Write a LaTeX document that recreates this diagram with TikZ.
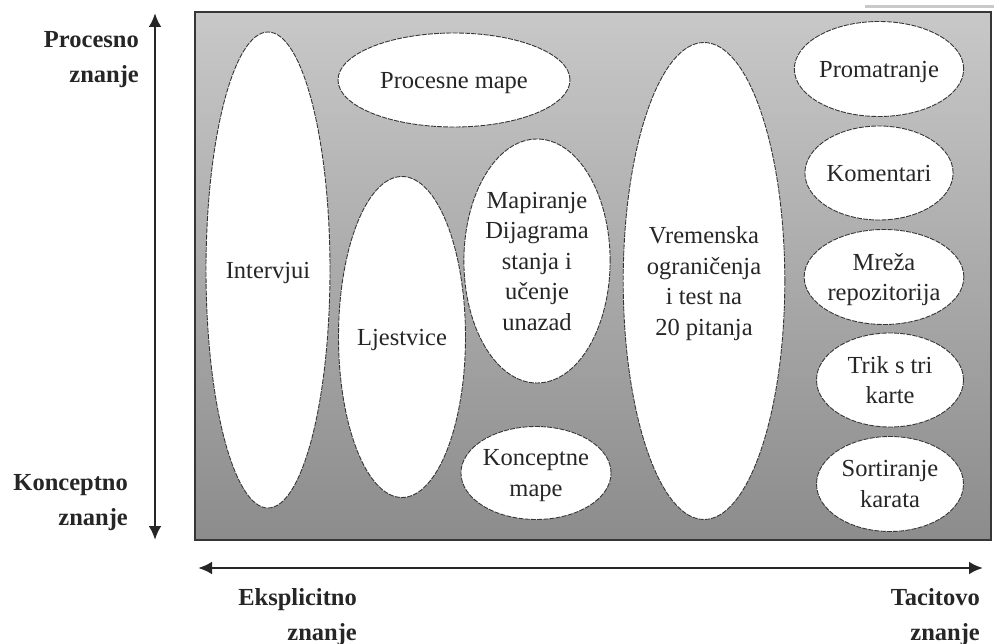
\documentclass[tikz,border=0pt]{standalone}
\usepackage{fontspec}
\setmainfont{Liberation Serif}
\newfontfamily\labelface{Liberation Serif}
\usetikzlibrary{shapes.geometric,arrows.meta}

\definecolor{inkgray}{HTML}{262626}
\definecolor{rimgray}{HTML}{363636}
\definecolor{panetop}{HTML}{C8C8C8}
\definecolor{panebottom}{HTML}{8C8C8C}
\definecolor{barGray}{HTML}{C9C9C9}

\begin{document}
\begin{tikzpicture}[x=1pt,y=-1pt,
  blob/.style={ellipse, draw=rimgray, line width=0.9pt,
    dash pattern=on 5pt off 1.2pt, fill=white, inner sep=0pt,
    text depth=0pt, align=center, text=inkgray,
    font=\labelface\fontsize{24.5}{30.5}\selectfont},
  axislabel/.style={align=right, inner sep=0pt, text=inkgray,
    font=\labelface\fontsize{24.5}{35}\selectfont\bfseries},
  axisline/.style={line width=2.8pt, draw=inkgray,
    {Latex[length=14pt,width=13pt]}-{Latex[length=14pt,width=13pt]}}
]
\useasboundingbox (0,0) rectangle (994,644);
\fill[white] (0,0) rectangle (994,644);

% thin strip in the upper right corner
\fill[barGray] (865,5) rectangle (994,8);

% shaded panel
\shade[top color=panetop, bottom color=panebottom] (195,12) rectangle (991,540);
\draw[line width=2.6pt, rimgray] (195,12) rectangle (991,540);

% methods
\node[blob, minimum width=124pt, minimum height=476pt] (int)  at (268,270) {Intervjui};
\node[blob, minimum width=232pt, minimum height=94pt]  (pm)   at (454,80)  {Procesne mape};
\node[blob, minimum width=120pt, minimum height=321pt] (lj)   at (402,337) {Ljestvice};
\node[blob, minimum width=146pt, minimum height=244pt] (map)  at (537,261) {Mapiranje\\Dijagrama\\stanja i\\učenje\\unazad};
\node[blob, minimum width=143pt, minimum height=93pt]  (km)   at (536,473) {Konceptne\\mape};
\node[blob, minimum width=145pt, minimum height=477pt] (vr)   at (704,281) {Vremenska\\ograničenja\\i test na\\20 pitanja};
\node[blob, minimum width=148pt, minimum height=95pt]  (prom) at (879,69)  {Promatranje};
\node[blob, minimum width=148pt, minimum height=94pt]  (kom)  at (879,173) {Komentari};
\node[blob, minimum width=156pt, minimum height=95pt]  (mrz)  at (884,277) {Mreža\\repozitorija};
\node[blob, minimum width=147pt, minimum height=94pt]  (trik) at (890,380) {Trik s tri\\karte};
\node[blob, minimum width=147pt, minimum height=95pt]  (sort) at (890,484) {Sortiranje\\karata};

% axes
\coordinate (vtop) at (155,13);
\coordinate (vbot) at (155,540);
\coordinate (hleft) at (198,568);
\coordinate (hright) at (983,568);
\draw[axisline] (vtop) -- (vbot);
\draw[axisline] (hleft) -- (hright);

% axis labels
\node[axislabel, anchor=east] (proc) at (139,60)  {Procesno\\znanje};
\node[axislabel, anchor=east] (konc) at (128,503) {Konceptno\\znanje};
\node[axislabel, anchor=east] (eksp) at (357,617) {Eksplicitno\\znanje};
\node[axislabel, anchor=east] (taci) at (980,617) {Tacitovo\\znanje};
\end{tikzpicture}
\end{document}
